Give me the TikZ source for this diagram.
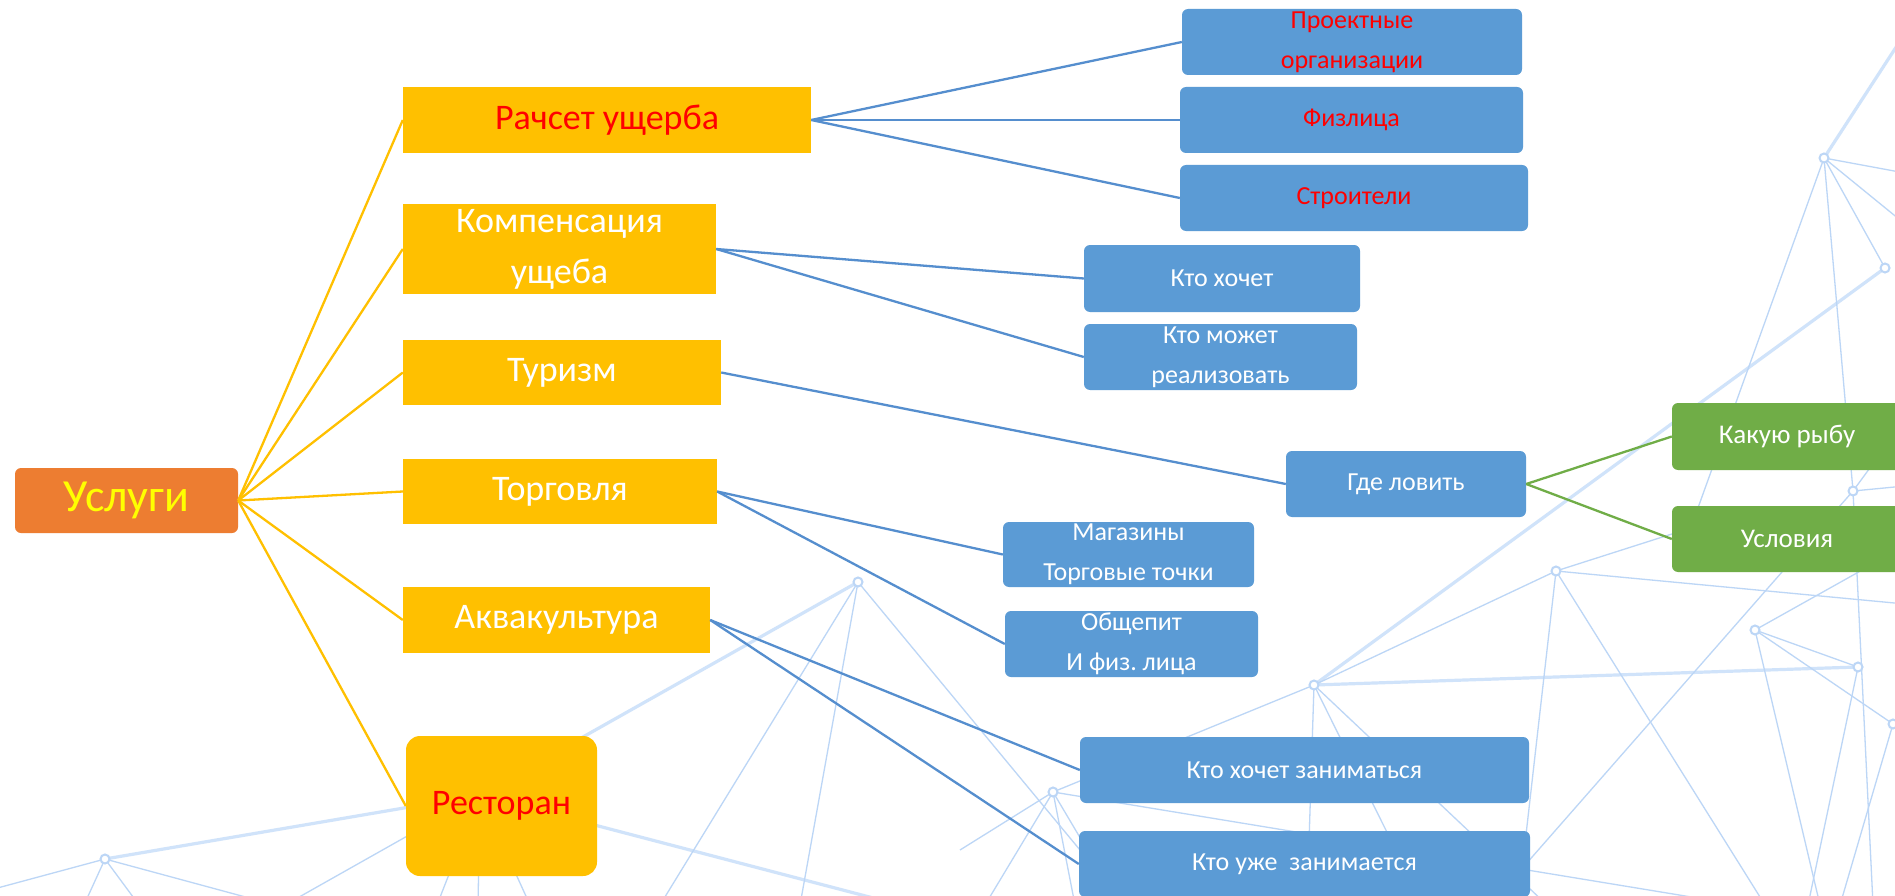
\documentclass[tikz,border=0pt]{standalone}
\usepackage{fontspec}
\setmainfont{Carlito}
\frenchspacing
\definecolor{yel}{HTML}{FFC000}
\definecolor{org}{HTML}{ED7D31}
\definecolor{blu}{HTML}{5B9BD5}
\definecolor{grn}{HTML}{70AD47}
\definecolor{conb}{RGB}{85,142,206}
\definecolor{netc}{RGB}{188,214,246}
\definecolor{netg}{RGB}{208,227,250}
\definecolor{txtred}{HTML}{FF0000}
\definecolor{txtyel}{HTML}{FFFF00}
\begin{document}
\begin{tikzpicture}[x=1pt,y=-1pt,
  ybox/.style={fill=yel, draw=none, inner sep=0pt, align=center, text=white, font=\fontsize{36}{51}\selectfont},
  bbox/.style={fill=blu, draw=none, rounded corners=6pt, inner sep=0pt, align=center, text=white, font=\fontsize{26}{40}\selectfont},
  gbox/.style={fill=grn, draw=none, rounded corners=6pt, inner sep=0pt, align=center, text=white, font=\fontsize{27}{40}\selectfont},
  netline/.style={draw=netc, line width=1.3pt},
  netglow/.style={draw=netg, line width=3.2pt},
  netdot/.style={circle, draw=netc, line width=2pt, fill=white, inner sep=0pt, minimum size=9pt},
  orline/.style={draw=yel, line width=2.3pt},
  blline/.style={draw=conb, line width=2.3pt},
  grline/.style={draw=grn, line width=2.3pt}]
\useasboundingbox (0,0) rectangle (1895,896);
\clip (0,0) rectangle (1895,896);
\fill[white] (0,0) rectangle (1895,896);

% background network
\coordinate (N1) at (858,582);
\coordinate (N2) at (105,859);
\coordinate (N3) at (1053,792);
\coordinate (N4) at (1314,685);
\coordinate (N5) at (1556,571);
\coordinate (N6) at (1755,630);
\coordinate (N7) at (1858,667);
\coordinate (N8) at (1853,491);
\coordinate (N9) at (1824,158);
\coordinate (N10) at (1885,268);
\coordinate (N11) at (1893,724);
\coordinate (H1) at (480,795);

\draw[netglow] (N9) -- (1915,18);
\draw[netglow] (N10) -- (N4);
\draw[netglow] (N1) -- (H1);
\draw[netglow] (H1) -- (900,905);
\draw[netglow] (N4) -- (N7);
\draw[netglow] (N2) -- (H1);

\draw[netline] (N9) -- (1905,173);
\draw[netline] (N9) -- (1905,224);
\draw[netline] (N9) -- (N10);
\draw[netline] (N9) -- (N8);
\draw[netline] (N9) -- (1690,530);
\draw[netline] (N8) -- (1905,486);
\draw[netline] (N8) -- (1905,420);
\draw[netline] (N8) -- (1490,905);
\draw[netline] (N8) -- (1873,905);
\draw[netline] (N5) -- (N4);
\draw[netline] (N5) -- (1905,604);
\draw[netline] (N5) -- (1700,525);
\draw[netline] (N5) -- (1518,905);
\draw[netline] (N5) -- (1765,905);
\draw[netline] (N6) -- (1905,546);
\draw[netline] (N6) -- (N7);
\draw[netline] (N6) -- (N11);
\draw[netline] (N6) -- (1820,905);
\draw[netline] (N7) -- (1808,905);
\draw[netline] (N11) -- (1840,905);
\draw[netline] (N4) -- (N3);
\draw[netline] (N4) -- (1307,905);
\draw[netline] (N4) -- (1423,905);
\draw[netline] (N4) -- (1547,905);
\draw[netline] (N3) -- (1740,905);
\draw[netline] (N3) -- (1120,905);
\draw[netline] (N3) -- (1075,905);
\draw[netline] (N3) -- (985,905);
\draw[netline] (N3) -- (960,850);
\draw[netline] (N1) -- (660,905);
\draw[netline] (N1) -- (800,905);
\draw[netline] (N1) -- (1080,850);
\draw[netline] (H1) -- (437,905);
\draw[netline] (H1) -- (478,905);
\draw[netline] (H1) -- (530,905);
\draw[netline] (H1) -- (285,905);
\draw[netline] (N2) -- (84,905);
\draw[netline] (N2) -- (139,905);
\draw[netline] (N2) -- (275,905);
\draw[netline] (N2) -- (-10,890);

\foreach \p in {N1,N2,N3,N4,N5,N6,N7,N8,N9,N10,N11}
  \node[netdot] at (\p) {};

% main nodes
\node[fill=org, rounded corners=6pt, inner sep=0pt, minimum width=223pt, minimum height=65pt,
      text=txtyel, font=\fontsize{46}{54}\selectfont] (us) at (126.5,500.5) {Услуги};

\node[ybox, minimum width=408pt, minimum height=66pt, text=txtred] (r1) at (607,120) {Рачсет ущерба};
\node[ybox, minimum width=313pt, minimum height=89pt] (r2) at (559.5,249) {Компенсация\\ущеба};
\node[ybox, minimum width=318pt, minimum height=65pt] (r3) at (562,372.5) {Туризм};
\node[ybox, minimum width=314pt, minimum height=65pt] (r4) at (560,491.5) {Торговля};
\node[ybox, minimum width=307pt, minimum height=66pt] (r5) at (556.5,620) {Аквакультура};
\node[ybox, rounded corners=14pt, minimum width=191pt, minimum height=140pt, text=txtred] (r6) at (501.5,806) {Ресторан};

\node[bbox, minimum width=340pt, minimum height=66pt, text=txtred] (b1) at (1352,42) {Проектные\\организации};
\node[bbox, minimum width=343pt, minimum height=66pt, text=txtred] (b2) at (1351.5,120) {Физлица};
\node[bbox, minimum width=348pt, minimum height=66pt, text=txtred] (b3) at (1354,198) {Строители};
\node[bbox, minimum width=276pt, minimum height=67pt] (b4) at (1222,278.5) {Кто хочет};
\node[bbox, minimum width=273pt, minimum height=66pt] (b5) at (1220.5,357) {Кто может\\реализовать};
\node[bbox, minimum width=240pt, minimum height=66pt] (b6) at (1406,484) {Где ловить};
\node[bbox, minimum width=251pt, minimum height=65pt] (b7) at (1128.5,554.5) {Магазины\\Торговые точки};
\node[bbox, minimum width=253pt, minimum height=66pt] (b8) at (1131.5,644) {Общепит\\И физ. лица};
\node[bbox, minimum width=449pt, minimum height=66pt] (b9) at (1304.5,770) {Кто хочет заниматься};
\node[bbox, minimum width=451pt, minimum height=66pt] (b10) at (1304.5,864) {Кто уже~ занимается};
\node[gbox, minimum width=230pt, minimum height=67pt] (g1) at (1787,436.5) {Какую рыбу};
\node[gbox, minimum width=230pt, minimum height=66pt] (g2) at (1787,539) {Условия};

% connectors
\foreach \t in {r1,r2,r3,r4,r5,r6}
  \draw[orline] (us.east) -- (\t.west);
\foreach \t in {b1,b2,b3}
  \draw[blline] (r1.east) -- (\t.west);
\foreach \t in {b4,b5}
  \draw[blline] (r2.east) -- (\t.west);
\draw[blline] (r3.east) -- (b6.west);
\foreach \t in {b7,b8}
  \draw[blline] (r4.east) -- (\t.west);
\foreach \t in {b9,b10}
  \draw[blline] (r5.east) -- (\t.west);
\foreach \t in {g1,g2}
  \draw[grline] (b6.east) -- (\t.west);
\end{tikzpicture}
\end{document}
